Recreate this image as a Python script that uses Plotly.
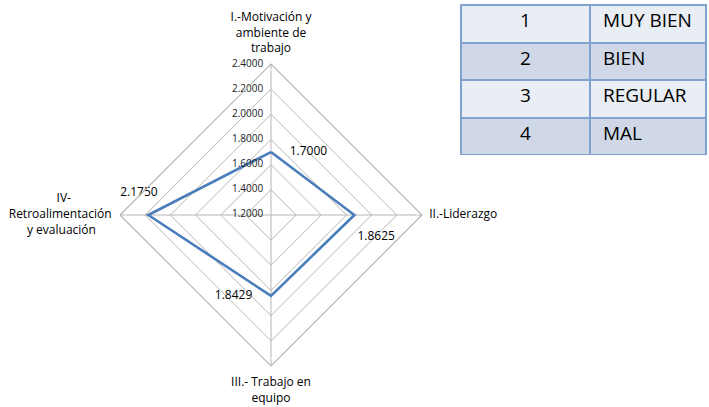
import plotly.graph_objects as go

categories = ["I.-Motivación y<br>ambiente de<br>trabajo", "II.-Liderazgo",
              "III.- Trabajo en<br>equipo", "IV-<br>Retroalimentación<br>y evaluación"]
values = [1.7000, 1.8625, 1.8429, 2.1750]
radial_ticks = [1.2, 1.4, 1.6, 1.8, 2.0, 2.2, 2.4]
radial_range = [1.2, 2.4]

table_nums = ["1", "2", "3", "4"]
table_words = ["MUY BIEN", "BIEN", "REGULAR", "MAL"]

W, H = 709, 407
FONT = "Open Sans"
LINE = "#4a7ebb"
GRID = "#b5b5b5"
ROW_LIGHT = "#e9edf4"
ROW_DARK = "#d0d8e8"
BORDER = "#7fa2d0"

theta_closed = categories + [categories[0]]
r_closed = values + [values[0]]

# data-label placement (style only)
label_pos = ["middle right", "bottom right", "middle left", "top center"]
label_pad_l = ["      ", " ", "", ""]
label_pad_r = ["", "", "      ", "      "]
label_pre = ["", "<br>", "", ""]
label_post = ["", "", "", "<br> "]
label_text = [pre + pl + f"{v:.4f}" + pr + post for v, pre, pl, pr, post in
              zip(values, label_pre, label_pad_l, label_pad_r, label_post)]

# category-label placement (style only): centre each line of the left label
def centre_lines(label, pad_to):
    out = []
    for line in label.split("<br>"):
        n = max(0, round((pad_to - len(line)) * 0.95))
        out.append(line + "\u00a0" * n)
    return "<br>".join(out)

cat_pos = ["top center", "middle right", "bottom center", "middle left"]
cat_text = [categories[0], categories[1], categories[2], centre_lines(categories[3], 17)]
cat_gap = [12, 10, 16, 12]  # invisible marker sizes, used only to offset the labels

# tiny offset so that the centre tick label (at the range minimum) is drawn
r_lo = radial_range[0] - 1e-4

fig = go.Figure()
fig.add_trace(go.Scatterpolar(
    r=r_closed, theta=theta_closed, mode="lines",
    line=dict(color=LINE, width=2.6), hoverinfo="skip",
))
fig.add_trace(go.Scatterpolar(
    r=values, theta=categories, mode="text",
    text=label_text,
    textposition=label_pos,
    textfont=dict(family=FONT, size=12, color="#000000"),
    hoverinfo="skip", cliponaxis=False,
))
# radial axis tick labels, drawn horizontally to the left of the vertical axis
fig.add_trace(go.Scatterpolar(
    r=radial_ticks, theta=[categories[0]] * len(radial_ticks), mode="text",
    text=[f"{t:.4f}" + "   " for t in radial_ticks],
    textposition="middle left",
    textfont=dict(family=FONT, size=10, color="#222222"),
    hoverinfo="skip", cliponaxis=False,
))
# category labels at the tips of the spokes
fig.add_trace(go.Scatterpolar(
    r=[radial_range[1]] * len(categories), theta=categories, mode="markers+text",
    marker=dict(size=cat_gap, color="rgba(0,0,0,0)"),
    text=cat_text, textposition=cat_pos,
    textfont=dict(family=FONT, size=12, color="#000000"),
    hoverinfo="skip", cliponaxis=False,
))

fig.add_trace(go.Table(
    domain=dict(x=[461 / W, 706 / W], y=[(H - 156) / H, (H - 5) / H]),
    columnwidth=[129, 116],
    header=dict(
        values=[table_nums[0], " " + table_words[0]],
        fill_color=ROW_LIGHT, height=37.5,
        align=["center", "left"],
        line=dict(color=BORDER, width=2),
        font=dict(family=FONT, size=19, color="#000000"),
    ),
    cells=dict(
        values=[table_nums[1:], [" " + w for w in table_words[1:]]],
        fill_color=[[ROW_DARK, ROW_LIGHT, ROW_DARK]] * 2,
        height=37.5,
        align=["center", "left"],
        line=dict(color=BORDER, width=2),
        font=dict(family=FONT, size=19, color="#000000"),
    ),
))

cx, cy, rad = 271, 215, 151
fig.update_layout(
    width=W, height=H,
    margin=dict(l=0, r=0, t=0, b=0),
    paper_bgcolor="white",
    showlegend=False,
    polar=dict(
        domain=dict(x=[(cx - rad) / W, (cx + rad) / W],
                    y=[(H - cy - rad) / H, (H - cy + rad) / H]),
        bgcolor="white",
        gridshape="linear",
        radialaxis=dict(
            range=[r_lo, radial_range[1]], tickvals=radial_ticks[1:],
            angle=90, showticklabels=False, showline=False, ticks="",
            gridcolor=GRID, gridwidth=1.2,
        ),
        angularaxis=dict(
            categoryorder="array", categoryarray=categories,
            rotation=90, direction="clockwise", showticklabels=False,
            showline=True, linecolor=GRID, linewidth=1.2,
            gridcolor=GRID, gridwidth=1.2, ticks="",
        ),
    ),
)

fig.write_html("out.html")
